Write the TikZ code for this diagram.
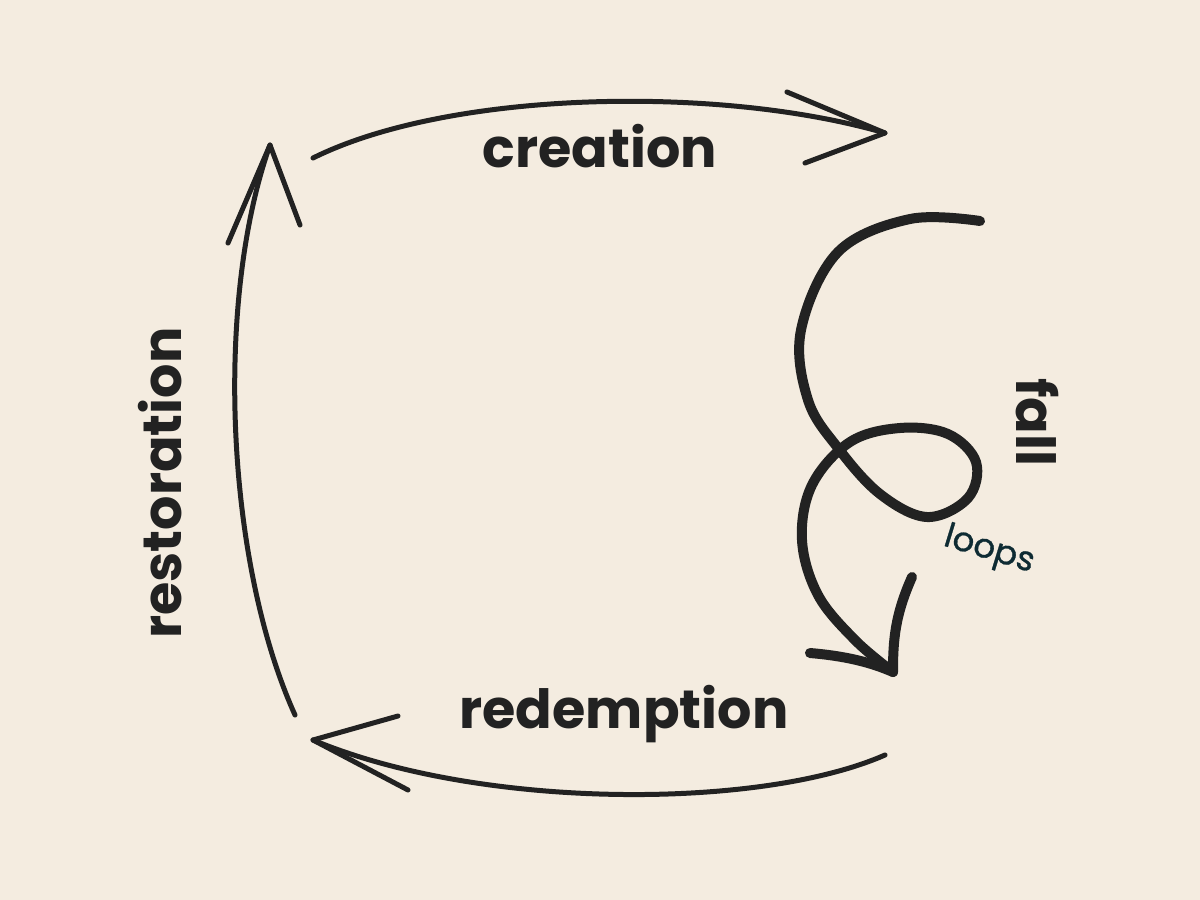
\documentclass[tikz,border=0pt]{standalone}
\usepackage{fontspec}
\usepackage{xcolor}
\usepackage{tikz}
\setmainfont{Poppins}
\newfontfamily\loopsfont{Poppins}[FakeBold=0.8]
\definecolor{paper}{HTML}{F4ECE0}
\definecolor{ink}{HTML}{222222}
\definecolor{teal}{HTML}{0E2B33}

\begin{document}
\begin{tikzpicture}[x=0.5pt, y=-0.5pt, line cap=round, line join=round,
    stage/.style={font=\bfseries\fontsize{27}{30}\selectfont, text=ink},
    arc/.style={draw=ink, line width=2.5pt}]
    % 1. Background
    \fill[paper] (0,0) rectangle (1200,900);
    \useasboundingbox (0,0) rectangle (1200,900);

    % 2. Labels
    \node[stage] (creation) at (600,146) {creation};
    \node[stage] (redemption) at (624,714) {redemption};
    \node[stage, rotate=90] (restoration) at (160,483) {restoration};
    \node[stage, rotate=-90] (fall) at (1037,422) {fall};
    \node[text=teal, rotate=-17, font=\loopsfont\fontsize{17}{19}\selectfont] (loops) at (989,551) {loops};

    % 3. Arrow ends
    \coordinate (creationS) at (313,158);
    \coordinate (creationE) at (885,133);
    \coordinate (restorationS) at (295,715);
    \coordinate (restorationE) at (270,145);
    \coordinate (redemptionS) at (885,755);
    \coordinate (redemptionE) at (313,740);
    \coordinate (fallS) at (980,221);
    \coordinate (fallE) at (893,672);

    % 4. Creation arc (top)
    \draw[arc] (creationS) .. controls (450,90) and (720,85) .. (creationE);
    \draw[arc] (787,92) -- (creationE) -- (805,163);

    % 5. Restoration arc (left)
    \draw[arc] (restorationS) .. controls (225,560) and (215,300) .. (restorationE);
    \draw[arc] (228,243) -- (restorationE) -- (300,225);

    % 6. Redemption arc (bottom)
    \draw[arc] (redemptionS) .. controls (760,810) and (480,810) .. (redemptionE);
    \draw[arc] (398,716) -- (redemptionE) -- (408,790);

    % 7. Fall with its loop
    \draw[ink, line width=5pt] plot[smooth, tension=0.6] coordinates {
        (fallS) (910,219) (838,252) (801,330) (808,400) (838,448) (880,494)
        (927,517) (968,498) (976,462) (948,434) (900,428) (850,442)
        (812,485) (802,540) (818,595) (855,640) (fallE)};
    \draw[ink, line width=5pt] (810,653) .. controls (845,656) and (870,662) .. (fallE);
    \draw[ink, line width=5pt] (912,577) .. controls (895,615) and (893,640) .. (fallE);
\end{tikzpicture}
\end{document}
